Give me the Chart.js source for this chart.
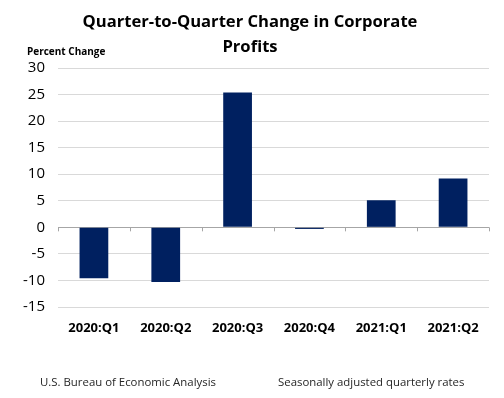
<!DOCTYPE html>
<html>
<head>
<meta charset="utf-8">
<script src="https://cdn.jsdelivr.net/npm/chart.js@4/dist/chart.umd.min.js"></script>
<style>
html,body{margin:0;padding:0;background:#fff;}
#wrap{position:relative;width:504px;height:398px;}
</style>
</head>
<body>
<div id="wrap"><canvas id="c" width="504" height="398"></canvas></div>
<script>
const categories = ["2020:Q1","2020:Q2","2020:Q3","2020:Q4","2021:Q1","2021:Q2"];
const profitChange = [-9.6, -10.3, 25.4, -0.3, 5.1, 9.2];
const yTicks = [30,25,20,15,10,5,0,-5,-10,-15];
const titleLines = ["Quarter-to-Quarter Change in Corporate","Profits"];
const yAxisLabel = "Percent Change";
const footerLeft = "U.S. Bureau of Economic Analysis";
const footerRight = "Seasonally adjusted quarterly rates";

const FONT = "'Open Sans', sans-serif";

const textPlugin = {
  id: 'texts',
  afterDraw(chart) {
    const ctx = chart.ctx;
    ctx.save();
    ctx.fillStyle = '#000';
    ctx.textAlign = 'center';
    ctx.textBaseline = 'middle';
    ctx.font = "bold 16.6px " + FONT;
    ctx.fillText(titleLines[0], 250, 22);
    ctx.fillText(titleLines[1], 250, 47);
    ctx.textAlign = 'left';
    ctx.font = "bold 10px " + FONT;
    ctx.fillText(yAxisLabel, 27, 52);
    ctx.font = "11.4px " + FONT;
    ctx.fillStyle = '#262626';
    ctx.fillText(footerLeft, 40, 383);
    ctx.fillText(footerRight, 278, 383);
    // small tick marks on the zero line at category boundaries
    const x = chart.scales.x, y = chart.scales.y;
    const y0 = y.getPixelForValue(0);
    ctx.strokeStyle = '#a6a6a6';
    ctx.lineWidth = 1;
    for (let i = 0; i <= categories.length; i++) {
      const px = Math.round(x.getPixelForValue(i - 0.5)) + 0.5;
      ctx.beginPath();
      ctx.moveTo(px, y0);
      ctx.lineTo(px, y0 + 4);
      ctx.stroke();
    }
    ctx.restore();
  }
};

new Chart(document.getElementById('c'), {
  type: 'bar',
  data: {
    labels: categories,
    datasets: [{
      data: profitChange,
      backgroundColor: '#002060',
      borderWidth: 0,
      categoryPercentage: 1.0,
      barPercentage: 0.4
    }]
  },
  options: {
    responsive: false,
    animation: false,
    events: [],
    layout: { padding: { top: 68, right: 15, bottom: 0, left: 0 } },
    plugins: { legend: { display: false }, title: { display: false }, tooltip: { enabled: false } },
    scales: {
      x: {
        grid: { display: false, drawTicks: false },
        border: { display: false },
        ticks: { color: '#000', font: { family: FONT, size: 13, weight: 'bold' }, padding: 13, maxRotation: 0 },
        afterFit(s) { s.height = 91; }
      },
      y: {
        min: -15, max: 30,
        afterBuildTicks(s) { s.ticks = yTicks.map(v => ({ value: v })); },
        grid: {
          drawTicks: false,
          color: ctx => ctx.tick && ctx.tick.value === 0 ? '#a6a6a6' : '#d9d9d9',
          lineWidth: 1
        },
        border: { display: false },
        ticks: { color: '#000', font: { family: FONT, size: 15 }, padding: 13 },
        afterFit(s) { s.width = 58; }
      }
    }
  },
  plugins: [textPlugin]
});
</script>
</body>
</html>
